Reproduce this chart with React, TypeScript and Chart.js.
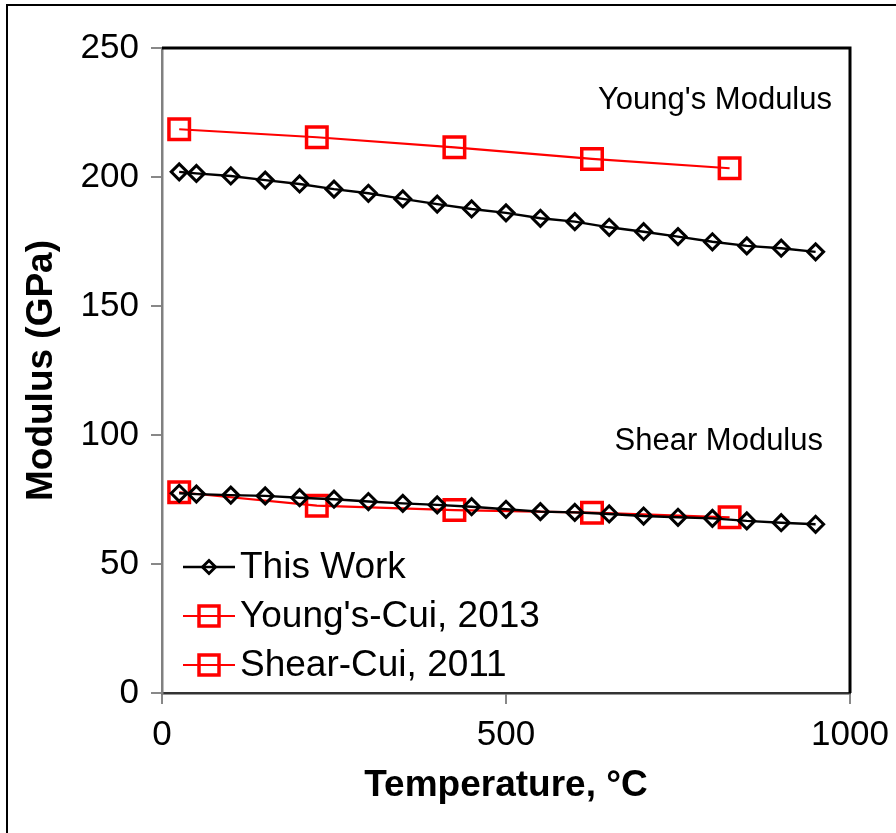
import React, { useEffect, useRef } from "react";
import { Chart, registerables } from "chart.js";

Chart.register(...registerables);

const FONT = "'Liberation Sans', Arial, Helvetica, sans-serif";

const thisWorkTemps = [25, 50, 100, 150, 200, 250, 300, 350, 400, 450, 500, 550, 600, 650, 700, 750, 800, 850, 900, 950];
const thisWorkYoung = [202.0, 201.4, 200.4, 198.8, 197.3, 195.3, 193.7, 191.5, 189.5, 187.6, 186.1, 184.0, 182.7, 180.5, 178.8, 176.9, 174.9, 173.3, 172.4, 171.0];
const thisWorkShear = [77.4, 77.1, 76.7, 76.4, 75.7, 75.1, 74.2, 73.5, 72.9, 72.2, 71.2, 70.3, 70.0, 69.4, 68.6, 68.1, 67.7, 66.7, 66.0, 65.4];

const cuiTemps = [25, 225, 425, 625, 825];
const cuiYoung2013 = [218.5, 215.4, 211.5, 207.0, 203.4];
const cuiShear2011 = [77.8, 72.6, 70.9, 69.9, 68.1];

const xTicks = [0, 500, 1000];
const yTicks = [0, 50, 100, 150, 200, 250];

const legendLabels = ["This Work", "Young's-Cui, 2013", "Shear-Cui, 2011"];
const xTitle = "Temperature, °C";
const yTitle = "Modulus (GPa)";
const youngNote = "Young's Modulus";
const shearNote = "Shear Modulus";

const toXY = (xs: number[], ys: number[]) => xs.map((x, i) => ({ x, y: ys[i] }));

const blackStyle = {
  borderColor: "#000000",
  borderWidth: 2.4,
  pointStyle: "rectRot" as const,
  pointRadius: 8,
  pointBorderWidth: 3,
  pointBorderColor: "#000000",
  pointBackgroundColor: "rgba(0,0,0,0)",
  backgroundColor: "rgba(0,0,0,0)",
  fill: false,
  tension: 0,
};
const redStyle = {
  borderColor: "#FF0000",
  borderWidth: 2.2,
  pointStyle: "rect" as const,
  pointRadius: 14.5,
  pointBorderWidth: 3.5,
  pointBorderColor: "#FF0000",
  pointBackgroundColor: "rgba(0,0,0,0)",
  backgroundColor: "rgba(0,0,0,0)",
  fill: false,
  tension: 0,
};

const decorPlugin = {
  id: "decor",
  afterDraw(chart: any) {
    const ctx = chart.ctx as CanvasRenderingContext2D;
    const ca = chart.chartArea;
    ctx.save();
    // outer frame (left & top visible)
    ctx.strokeStyle = "#000";
    ctx.lineWidth = 2;
    ctx.beginPath();
    ctx.moveTo(7, 900);
    ctx.lineTo(7, 5);
    ctx.lineTo(900, 5);
    ctx.stroke();
    // plot box top/right
    ctx.lineWidth = 3;
    ctx.beginPath();
    ctx.moveTo(ca.left, ca.top);
    ctx.lineTo(ca.right, ca.top);
    ctx.lineTo(ca.right, ca.bottom);
    ctx.stroke();
    // annotations
    ctx.fillStyle = "#000";
    ctx.font = `31px ${FONT}`;
    ctx.textAlign = "right";
    ctx.textBaseline = "middle";
    ctx.fillText(youngNote, 832, 100);
    ctx.fillText(shearNote, 823, 441);
    // axis titles
    ctx.font = `bold 37px ${FONT}`;
    ctx.textAlign = "center";
    ctx.fillText(xTitle, (ca.left + ca.right) / 2, 786);
    ctx.save();
    ctx.translate(42, (ca.top + ca.bottom) / 2);
    ctx.rotate(-Math.PI / 2);
    ctx.fillText(yTitle, 0, 0);
    ctx.restore();
    // legend
    const rows = [567, 616, 665];
    const styles = [blackStyle, redStyle, redStyle];
    styles.forEach((st, i) => {
      const y = rows[i];
      ctx.strokeStyle = st.borderColor;
      ctx.lineWidth = st.borderWidth;
      ctx.beginPath();
      ctx.moveTo(183, y);
      ctx.lineTo(235, y);
      ctx.stroke();
      ctx.lineWidth = st.pointBorderWidth;
      ctx.beginPath();
      if (st.pointStyle === "rectRot") {
        const r = 6.5;
        ctx.moveTo(209 - r, y);
        ctx.lineTo(209, y - r);
        ctx.lineTo(209 + r, y);
        ctx.lineTo(209, y + r);
        ctx.closePath();
      } else {
        const h = 10;
        ctx.rect(209 - h, y - h, 2 * h, 2 * h);
      }
      ctx.stroke();
      ctx.fillStyle = "#000";
      ctx.font = `37px ${FONT}`;
      ctx.textAlign = "left";
      ctx.textBaseline = "middle";
      ctx.fillText(legendLabels[i], 240, y + 1);
    });
    ctx.restore();
  },
};

export default function App() {
  const ref = useRef<HTMLCanvasElement | null>(null);
  useEffect(() => {
    if (!ref.current) return;
    const chart = new Chart(ref.current, {
      type: "line",
      data: {
        datasets: [
          { label: legendLabels[0], data: toXY(thisWorkTemps, thisWorkYoung), ...blackStyle },
          { label: legendLabels[0] + " shear", data: toXY(thisWorkTemps, thisWorkShear), ...blackStyle },
          { label: legendLabels[1], data: toXY(cuiTemps, cuiYoung2013), ...redStyle },
          { label: legendLabels[2], data: toXY(cuiTemps, cuiShear2011), ...redStyle },
        ],
      },
      options: {
        responsive: false,
        animation: false,
        clip: false as any,
        layout: { padding: { top: 48, right: 46, left: 0, bottom: 0 } },
        plugins: { legend: { display: false }, tooltip: { enabled: false } },
        scales: {
          x: {
            type: "linear",
            min: 0,
            max: 1000,
            afterBuildTicks: (s: any) => { s.ticks = xTicks.map((v) => ({ value: v })); },
            afterFit: (s: any) => { s.height = 140; s.paddingRight = 0; s.paddingLeft = 0; },
            ticks: { color: "#000", font: { family: FONT, size: 35 }, padding: 10, maxRotation: 0, callback: (v: any) => String(v) },
            grid: { drawOnChartArea: false, drawTicks: true, tickLength: 11, color: "#888", lineWidth: 2 },
            border: { display: true, color: "#333", width: 2.5 },
          },
          y: {
            type: "linear",
            min: 0,
            max: 250,
            afterBuildTicks: (s: any) => { s.ticks = yTicks.map((v) => ({ value: v })); },
            afterFit: (s: any) => { s.width = 162; s.paddingTop = 0; s.paddingBottom = 0; },
            ticks: { color: "#000", font: { family: FONT, size: 35 }, padding: 12, callback: (v: any) => String(v) },
            grid: { drawOnChartArea: false, drawTicks: true, tickLength: 11, color: "#888", lineWidth: 2 },
            border: { display: true, color: "#808080", width: 2.5 },
          },
        },
      },
      plugins: [decorPlugin],
    });
    return () => chart.destroy();
  }, []);
  return (
    <div style={{ position: "fixed", left: 0, top: 0, width: 896, height: 833, background: "#fff" }}>
      <canvas ref={ref} width={896} height={833} style={{ display: "block" }} />
    </div>
  );
}
